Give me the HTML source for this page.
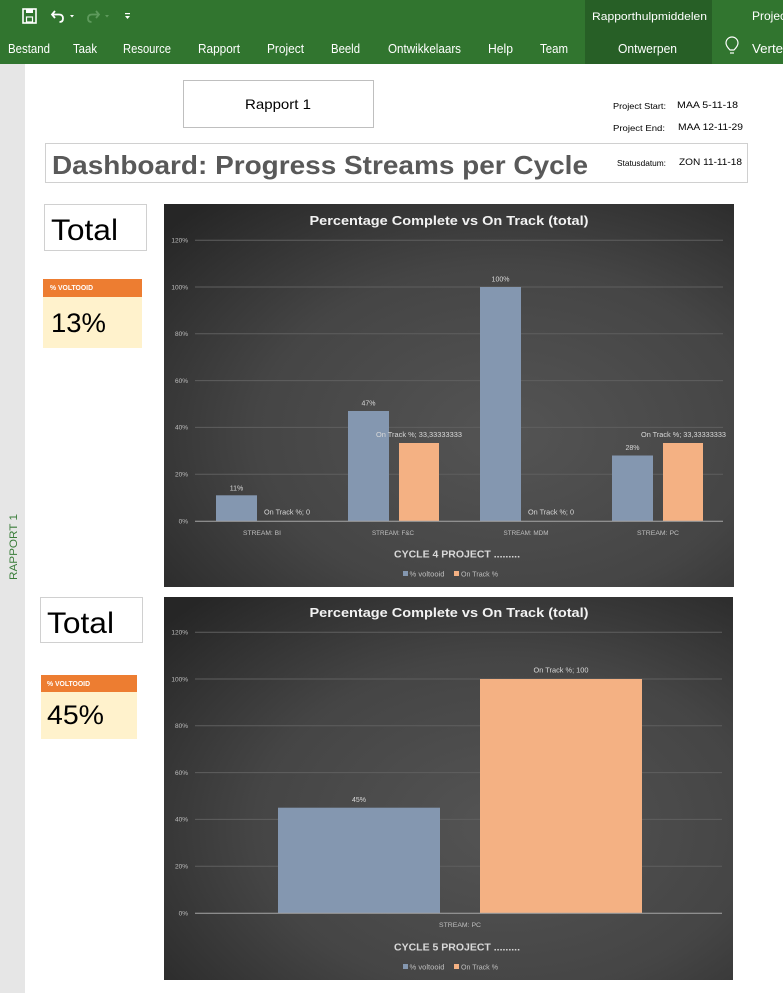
<!DOCTYPE html>
<html><head><meta charset="utf-8">
<style>
html,body{margin:0;padding:0;background:#fff;}
svg{display:block;}
text{font-family:"Liberation Sans",sans-serif;}
</style></head>
<body>
<svg width="783" height="993" viewBox="0 0 783 993" xmlns="http://www.w3.org/2000/svg">
<defs>
<radialGradient id="bg1" cx="0.6" cy="0.6" r="0.8">
<stop offset="0" stop-color="#545454"/>
<stop offset="0.55" stop-color="#454545"/>
<stop offset="1" stop-color="#262626"/>
</radialGradient>
</defs>
<!-- page -->
<rect x="0" y="0" width="783" height="993" fill="#ffffff"/>
<rect x="0" y="64" width="25" height="929" fill="#e6e6e6"/>
<text transform="translate(17,580) rotate(-90)" font-size="11" fill="#3a7d39" textLength="66" lengthAdjust="spacingAndGlyphs">RAPPORT 1</text>

<!-- ribbon -->
<rect x="0" y="0" width="783" height="64" fill="#31752f"/>
<rect x="585" y="0" width="127" height="64" fill="#275f26"/>
<!-- save icon -->
<rect x="23" y="9" width="13" height="14" fill="none" stroke="#fff" stroke-width="1.6"/>
<rect x="26" y="9" width="7" height="4" fill="#fff"/>
<rect x="26.5" y="17" width="6" height="5" fill="none" stroke="#fff" stroke-width="1.2"/>
<!-- undo -->
<path d="M55 11 L52 14.5 L55 18 M52.5 14.5 H59 Q63 14.5 63 18.5 Q63 22 59.5 22" fill="none" stroke="#fff" stroke-width="1.8"/>
<path d="M70 15 h4 l-2 2.5z" fill="#fff"/>
<path d="M96 11 L99 14.5 L96 18 M98.5 14.5 H92 Q88 14.5 88 18.5 Q88 22 91.5 22" fill="none" stroke="#5e9a5c" stroke-width="1.8"/>
<path d="M105 15 h4 l-2 2.5z" fill="#5e9a5c"/>
<rect x="125" y="13" width="5" height="1.2" fill="#fff"/>
<path d="M125 16 h5 l-2.5 3z" fill="#fff"/>
<text x="592" y="20" font-size="11" fill="#fff" textLength="115" lengthAdjust="spacingAndGlyphs">Rapporthulpmiddelen</text>
<text x="752" y="20" font-size="12" fill="#fff">Projec</text>
<g font-size="13" fill="#fff">
<text x="8" y="53" textLength="42" lengthAdjust="spacingAndGlyphs">Bestand</text>
<text x="73" y="53" textLength="24" lengthAdjust="spacingAndGlyphs">Taak</text>
<text x="123" y="53" textLength="48" lengthAdjust="spacingAndGlyphs">Resource</text>
<text x="198" y="53" textLength="42" lengthAdjust="spacingAndGlyphs">Rapport</text>
<text x="267" y="53" textLength="37" lengthAdjust="spacingAndGlyphs">Project</text>
<text x="331" y="53" textLength="29" lengthAdjust="spacingAndGlyphs">Beeld</text>
<text x="388" y="53" textLength="73" lengthAdjust="spacingAndGlyphs">Ontwikkelaars</text>
<text x="488" y="53" textLength="25" lengthAdjust="spacingAndGlyphs">Help</text>
<text x="540" y="53" textLength="28" lengthAdjust="spacingAndGlyphs">Team</text>
<text x="618" y="53" textLength="59" lengthAdjust="spacingAndGlyphs">Ontwerpen</text>
<text x="752" y="53" textLength="34" lengthAdjust="spacingAndGlyphs">Vertel</text>
</g>
<!-- bulb -->
<path d="M730 50 Q726 46 726 43 A6 6 0 0 1 738 43 Q738 46 734 50 Z" fill="none" stroke="#fff" stroke-width="1.2"/>
<line x1="730" y1="53" x2="734" y2="53" stroke="#fff" stroke-width="1.2"/>

<!-- Rapport 1 box -->
<rect x="183.5" y="80.5" width="190" height="47" fill="#fff" stroke="#bfbfbf"/>
<text x="245" y="109" font-size="14" fill="#000" textLength="66" lengthAdjust="spacingAndGlyphs">Rapport 1</text>

<g font-size="8.5" fill="#000">
<text x="613" y="109" textLength="53" lengthAdjust="spacingAndGlyphs">Project Start:</text>
<text x="677" y="108" font-size="9" textLength="61" lengthAdjust="spacingAndGlyphs">MAA 5-11-18</text>
<text x="613" y="131" textLength="52" lengthAdjust="spacingAndGlyphs">Project End:</text>
<text x="678" y="130" font-size="9" textLength="65" lengthAdjust="spacingAndGlyphs">MAA 12-11-29</text>
</g>

<!-- title box -->
<rect x="45.5" y="143.5" width="702" height="39" fill="#fff" stroke="#d0d0d0"/>
<text x="52" y="174" font-size="26" font-weight="bold" fill="#595959" textLength="536" lengthAdjust="spacingAndGlyphs">Dashboard: Progress Streams per Cycle</text>
<text x="617" y="166" font-size="8.5" fill="#000" textLength="49" lengthAdjust="spacingAndGlyphs">Statusdatum:</text>
<text x="679" y="165" font-size="9" fill="#000" textLength="63" lengthAdjust="spacingAndGlyphs">ZON 11-11-18</text>

<!-- Total 1 -->
<rect x="44.5" y="204.5" width="102" height="46" fill="#fff" stroke="#d0d0d0"/>
<text x="51" y="240" font-size="30" fill="#000" textLength="67" lengthAdjust="spacingAndGlyphs">Total</text>
<rect x="43" y="279" width="99" height="18" fill="#ed7d31"/>
<text x="50" y="290" font-size="7" font-weight="bold" fill="#fff" textLength="43" lengthAdjust="spacingAndGlyphs">% VOLTOOID</text>
<rect x="43" y="297" width="99" height="51" fill="#fff2cc"/>
<text x="51" y="332" font-size="27" fill="#000" textLength="55" lengthAdjust="spacingAndGlyphs">13%</text>

<!-- Total 2 -->
<rect x="40.5" y="597.5" width="102" height="45" fill="#fff" stroke="#d0d0d0"/>
<text x="47" y="633" font-size="30" fill="#000" textLength="67" lengthAdjust="spacingAndGlyphs">Total</text>
<rect x="41" y="675" width="96" height="17" fill="#ed7d31"/>
<text x="47" y="686" font-size="7" font-weight="bold" fill="#fff" textLength="43" lengthAdjust="spacingAndGlyphs">% VOLTOOID</text>
<rect x="41" y="692" width="96" height="47" fill="#fff2cc"/>
<text x="47" y="724" font-size="27" fill="#000" textLength="57" lengthAdjust="spacingAndGlyphs">45%</text>

<!-- CHART 1 -->
<rect x="164" y="204" width="570" height="383" fill="url(#bg1)"/>
<text x="449" y="225" font-size="13" font-weight="bold" fill="#f2f2f2" text-anchor="middle" textLength="279" lengthAdjust="spacingAndGlyphs">Percentage Complete vs On Track (total)</text>
<g stroke="#5f5f5f" stroke-width="1">
<line x1="195" y1="240.2" x2="723" y2="240.2"/>
<line x1="195" y1="287" x2="723" y2="287"/>
<line x1="195" y1="333.8" x2="723" y2="333.8"/>
<line x1="195" y1="380.6" x2="723" y2="380.6"/>
<line x1="195" y1="427.4" x2="723" y2="427.4"/>
<line x1="195" y1="474.2" x2="723" y2="474.2"/>
</g>
<g font-size="6.5" fill="#bfbfbf" text-anchor="end">
<text x="188" y="242.5">120%</text>
<text x="188" y="289.3">100%</text>
<text x="188" y="336.1">80%</text>
<text x="188" y="382.9">60%</text>
<text x="188" y="429.7">40%</text>
<text x="188" y="476.5">20%</text>
<text x="188" y="523.3">0%</text>
</g>
<g fill="#8497b0">
<rect x="216" y="495.3" width="41" height="25.7"/>
<rect x="348" y="411" width="41" height="110"/>
<rect x="480" y="287" width="41" height="234"/>
<rect x="612" y="455.5" width="41" height="65.5"/>
</g>
<g fill="#f4b183">
<rect x="399" y="443" width="40" height="78"/>
<rect x="663" y="443" width="40" height="78"/>
</g>
<line x1="195" y1="521.3" x2="723" y2="521.3" stroke="#a6a6a6" stroke-width="1"/>
<g font-size="7" fill="#d9d9d9">
<text x="236.5" y="490.5" text-anchor="middle">11%</text>
<text x="264" y="514.5" textLength="46" lengthAdjust="spacingAndGlyphs">On Track %; 0</text>
<text x="368.5" y="405.5" text-anchor="middle">47%</text>
<text x="376" y="437" textLength="86" lengthAdjust="spacingAndGlyphs">On Track %; 33,33333333</text>
<text x="500.5" y="281.5" text-anchor="middle">100%</text>
<text x="528" y="514.5" textLength="46" lengthAdjust="spacingAndGlyphs">On Track %; 0</text>
<text x="632.5" y="450" text-anchor="middle">28%</text>
<text x="641" y="437" textLength="85" lengthAdjust="spacingAndGlyphs">On Track %; 33,33333333</text>
</g>
<g font-size="6.5" fill="#bfbfbf" text-anchor="middle">
<text x="262" y="535" textLength="38" lengthAdjust="spacingAndGlyphs">STREAM: BI</text>
<text x="393" y="535" textLength="42" lengthAdjust="spacingAndGlyphs">STREAM: F&amp;C</text>
<text x="526" y="535" textLength="45" lengthAdjust="spacingAndGlyphs">STREAM: MDM</text>
<text x="658" y="535" textLength="42" lengthAdjust="spacingAndGlyphs">STREAM: PC</text>
</g>
<text x="457" y="557.5" font-size="10.5" font-weight="bold" fill="#d9d9d9" text-anchor="middle" textLength="126" lengthAdjust="spacingAndGlyphs">CYCLE 4  PROJECT .........</text>
<rect x="403" y="571" width="5" height="5" fill="#8497b0"/>
<text x="409.5" y="576.5" font-size="7" fill="#bfbfbf" textLength="35" lengthAdjust="spacingAndGlyphs">% voltooid</text>
<rect x="454" y="571" width="5" height="5" fill="#f4b183"/>
<text x="461" y="576.5" font-size="7" fill="#bfbfbf" textLength="37" lengthAdjust="spacingAndGlyphs">On Track %</text>

<!-- CHART 2 -->
<rect x="164" y="597" width="569" height="383" fill="url(#bg1)"/>
<text x="449" y="617" font-size="13" font-weight="bold" fill="#f2f2f2" text-anchor="middle" textLength="279" lengthAdjust="spacingAndGlyphs">Percentage Complete vs On Track (total)</text>
<g stroke="#5f5f5f" stroke-width="1">
<line x1="195" y1="632.2" x2="722" y2="632.2"/>
<line x1="195" y1="679" x2="722" y2="679"/>
<line x1="195" y1="725.8" x2="722" y2="725.8"/>
<line x1="195" y1="772.6" x2="722" y2="772.6"/>
<line x1="195" y1="819.4" x2="722" y2="819.4"/>
<line x1="195" y1="866.2" x2="722" y2="866.2"/>
</g>
<g font-size="6.5" fill="#bfbfbf" text-anchor="end">
<text x="188" y="634.5">120%</text>
<text x="188" y="681.3">100%</text>
<text x="188" y="728.1">80%</text>
<text x="188" y="774.9">60%</text>
<text x="188" y="821.7">40%</text>
<text x="188" y="868.5">20%</text>
<text x="188" y="915.3">0%</text>
</g>
<rect x="278" y="807.7" width="162" height="105.3" fill="#8497b0"/>
<rect x="480" y="679" width="162" height="234" fill="#f4b183"/>
<line x1="195" y1="913.3" x2="722" y2="913.3" stroke="#a6a6a6" stroke-width="1"/>
<g font-size="7" fill="#d9d9d9" text-anchor="middle">
<text x="359" y="802">45%</text>
<text x="561" y="672.5" textLength="55" lengthAdjust="spacingAndGlyphs">On Track %; 100</text>
</g>
<text x="460" y="927" font-size="6.5" fill="#bfbfbf" text-anchor="middle" textLength="42" lengthAdjust="spacingAndGlyphs">STREAM: PC</text>
<text x="457" y="950.5" font-size="10.5" font-weight="bold" fill="#d9d9d9" text-anchor="middle" textLength="126" lengthAdjust="spacingAndGlyphs">CYCLE 5  PROJECT .........</text>
<rect x="403" y="964" width="5" height="5" fill="#8497b0"/>
<text x="409.5" y="969.5" font-size="7" fill="#bfbfbf" textLength="35" lengthAdjust="spacingAndGlyphs">% voltooid</text>
<rect x="454" y="964" width="5" height="5" fill="#f4b183"/>
<text x="461" y="969.5" font-size="7" fill="#bfbfbf" textLength="37" lengthAdjust="spacingAndGlyphs">On Track %</text>
</svg>
</body></html>
